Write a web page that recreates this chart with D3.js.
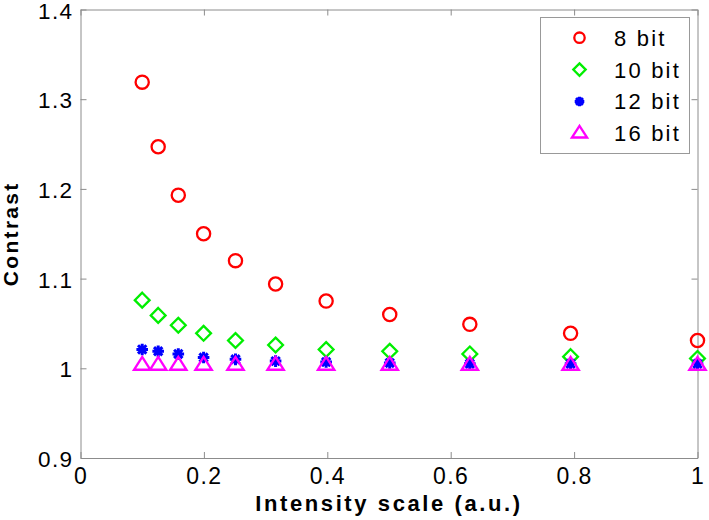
<!DOCTYPE html>
<html>
<head>
<meta charset="utf-8">
<script src="https://cdn.jsdelivr.net/npm/d3@7/dist/d3.min.js"></script>
<style>
  html, body { margin: 0; padding: 0; background: #fff; }
  svg { display: block; }
</style>
</head>
<body>
<svg id="chart" width="709" height="520"></svg>
<script>
// ---- data ----
const intensity = [0.1, 0.1259, 0.1585, 0.1995, 0.2512, 0.3162, 0.3981, 0.5012, 0.6310, 0.7943, 1.0];
const bit8  = [1.319, 1.247, 1.193, 1.150, 1.120, 1.094, 1.075, 1.060, 1.049, 1.039, 1.031];
const bit10 = [1.076, 1.059, 1.048, 1.039, 1.031, 1.026, 1.021, 1.019, 1.016, 1.013, 1.011];
const bit12 = [1.021, 1.019, 1.016, 1.012, 1.010, 1.008, 1.007, 1.006, 1.005, 1.005, 1.005];
const bit16 = [1.0035, 1.0035, 1.0035, 1.0035, 1.0035, 1.0035, 1.0035, 1.0035, 1.0035, 1.0035, 1.0035];
const seriesNames = ["8 bit", "10 bit", "12 bit", "16 bit"];
const xTicks = [0, 0.2, 0.4, 0.6, 0.8, 1];
const yTicks = [0.9, 1.0, 1.1, 1.2, 1.3, 1.4];
const xLabel = "Intensity scale (a.u.)";
const yLabel = "Contrast";

// ---- layout ----
const svg = d3.select("#chart");
const plotL = 80.5, plotR = 697.5, plotT = 9.5, plotB = 458;
const x = d3.scaleLinear().domain([0, 1]).range([plotL, plotR]);
const y = d3.scaleLinear().domain([0.9, 1.4]).range([plotB, plotT]);
const axisColor = "#8c8c8c";
const font = "'Liberation Sans', Arial, sans-serif";

// marker shapes
function circlePath(r) { return `M${r},0A${r},${r} 0 1,1 ${-r},0A${r},${r} 0 1,1 ${r},0Z`; }
function diamondPath(h) { return `M0,${-h}L${h},0L0,${h}L${-h},0Z`; }
function starPath(r) {
  const d = r * 0.72;
  return `M${-r},0L${r},0M0,${-r}L0,${r}M${-d},${-d}L${d},${d}M${-d},${d}L${d},${-d}`;
}
function trianglePath(w, up, down) { return `M0,${-up}L${w},${down}L${-w},${down}Z`; }

const series = [
  { name: seriesNames[0], values: bit8,  color: "#ff0000", path: circlePath(6.6), legendPath: circlePath(5.2), sw: 2.3 },
  { name: seriesNames[1], values: bit10, color: "#00ee00", path: diamondPath(7.4), legendPath: diamondPath(6.2), sw: 2.3 },
  { name: seriesNames[2], values: bit12, color: "#0000ff", path: starPath(5.8), legendPath: starPath(4.8), sw: 3 },
  { name: seriesNames[3], values: bit16, color: "#ff00ff", path: trianglePath(8.2, 8.2, 4.6), legendPath: trianglePath(7.6, 7.4, 4.2), sw: 2.3 }
];

// ---- axes ----
function styleAxis(g, size) {
  g.selectAll("path.domain").attr("stroke", axisColor).attr("stroke-width", 1);
  g.selectAll(".tick line").attr("stroke", axisColor).attr("stroke-width", 1);
  g.selectAll(".tick text").attr("fill", "#000").style("font-family", font)
    .style("font-size", size + "px").style("letter-spacing", "1.4px");
}
const gx = svg.append("g").attr("transform", `translate(0,${plotB})`)
  .call(d3.axisBottom(x).tickValues(xTicks).tickSize(-6).tickSizeOuter(0).tickPadding(10)
    .tickFormat(d => String(+d.toFixed(1))));
styleAxis(gx, 23);
const gy = svg.append("g").attr("transform", `translate(${plotL},0)`)
  .call(d3.axisLeft(y).tickValues(yTicks).tickSize(-6).tickSizeOuter(0).tickPadding(7)
    .tickFormat(d => (Math.abs(d - 1) < 1e-9) ? "1" : d.toFixed(1)));
styleAxis(gy, 22.5);
gy.selectAll(".tick text").attr("dy", "0.38em");
const gt = svg.append("g").attr("transform", `translate(0,${plotT})`)
  .call(d3.axisTop(x).tickValues(xTicks).tickSize(-6).tickSizeOuter(0).tickFormat(""));
styleAxis(gt, 22);
const gr = svg.append("g").attr("transform", `translate(${plotR},0)`)
  .call(d3.axisRight(y).tickValues(yTicks).tickSize(-6).tickSizeOuter(0).tickFormat(""));
styleAxis(gr, 22);

// ---- axis labels ----
svg.append("text")
  .attr("x", (plotL + plotR) / 2).attr("y", 511)
  .attr("text-anchor", "middle")
  .style("font-family", font).style("font-size", "22px").style("font-weight", "bold")
  .style("letter-spacing", "2.6px")
  .text(xLabel);
svg.append("text")
  .attr("transform", `translate(18,${(plotT + plotB) / 2}) rotate(-90)`)
  .attr("text-anchor", "middle")
  .style("font-family", font).style("font-size", "21px").style("font-weight", "bold")
  .style("letter-spacing", "2.3px")
  .text(yLabel);

// ---- markers ----
series.forEach(s => {
  svg.append("g").selectAll("path")
    .data(intensity.map((v, i) => [v, s.values[i]]))
    .join("path")
    .attr("d", s.path)
    .attr("transform", d => `translate(${x(d[0])},${y(d[1])})`)
    .attr("fill", "none")
    .attr("stroke", s.color)
    .attr("stroke-width", s.sw);
});

// ---- legend ----
const lg = svg.append("g");
lg.append("rect")
  .attr("x", 540.5).attr("y", 17.5).attr("width", 149).attr("height", 136)
  .attr("fill", "#fff").attr("stroke", "#999").attr("stroke-width", 1);
const rowY = d3.scalePoint().domain(seriesNames).range([37.7, 133.3]);
series.forEach(s => {
  const cy = rowY(s.name);
  lg.append("path").attr("d", s.legendPath)
    .attr("transform", `translate(579.5,${cy})`)
    .attr("fill", "none").attr("stroke", s.color).attr("stroke-width", s.sw);
  lg.append("text")
    .attr("x", 614).attr("y", cy + 8)
    .style("font-family", font).style("font-size", "22px")
    .style("letter-spacing", "2.2px")
    .text(s.name);
});
</script>
</body>
</html>
